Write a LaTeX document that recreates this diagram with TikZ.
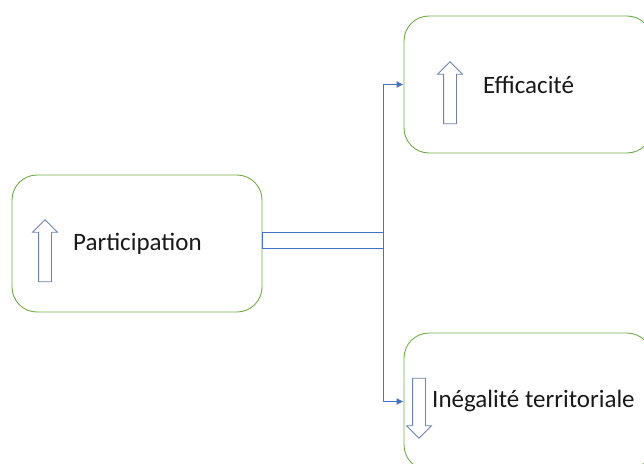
\documentclass[tikz,border=0pt]{standalone}
\usepackage{fontspec}
\setmainfont{Carlito}
\usetikzlibrary{shapes.arrows,arrows.meta}
\definecolor{boxgreen}{RGB}{112,173,71}
\definecolor{linkblue}{RGB}{68,114,196}
\definecolor{arrowgray}{RGB}{110,130,181}
\tikzset{
    box/.style = {
        draw=boxgreen,
        line width=0.9pt,
        rounded corners=25pt,
        minimum width=250pt,
        minimum height=137pt,
        inner sep=0pt
    },
    trend/.style = {
        draw=arrowgray,
        fill=white,
        line width=0.8pt,
        single arrow,
        single arrow head extend=6pt,
        minimum width=24pt,
        inner sep=6pt
    },
    lbl/.style = {
        font=\fontsize{25}{30}\selectfont,
        text=black!90,
        anchor=west,
        inner sep=0pt
    },
    link/.style = {
        draw=linkblue,
        line width=1pt
    }
}

\begin{document}
\begin{tikzpicture}[x=1pt,y=-1pt]
    \clip (0,0) rectangle (644,463);
    % Boxes
    \node[box] (partbox) at (137,243.5) {};
    \node[box, minimum width=248pt] (effbox) at (528,84.5) {};
    \node[box, minimum width=248pt] (inegbox) at (528,401.5) {};

    % Trend arrows
    \node[trend, shape border rotate=90, minimum height=62pt] (partup) at (45,254) {};
    \node[trend, shape border rotate=90, minimum height=62pt] (effup) at (450,96) {};
    \node[trend, shape border rotate=270, minimum height=60pt] (inegdown) at (419,405) {};

    % Labels
    \node[lbl] (parttxt) at (73,244) {Participation};
    \node[lbl] (efftxt) at (483,85) {Efficacité};
    \node[lbl] (inegtxt) at (432,401) {Inégalité territoriale};

    % Connectors
    \coordinate (split) at (383,240);
    \draw[link] (partbox.east |- 0,232) rectangle (split |- 0,248);
    \draw[link,-{Latex[length=7pt,width=7pt]}] (split) |- (effbox.west);
    \draw[link,-{Latex[length=7pt,width=7pt]}] (split) |- (inegbox.west);
\end{tikzpicture}
\end{document}
